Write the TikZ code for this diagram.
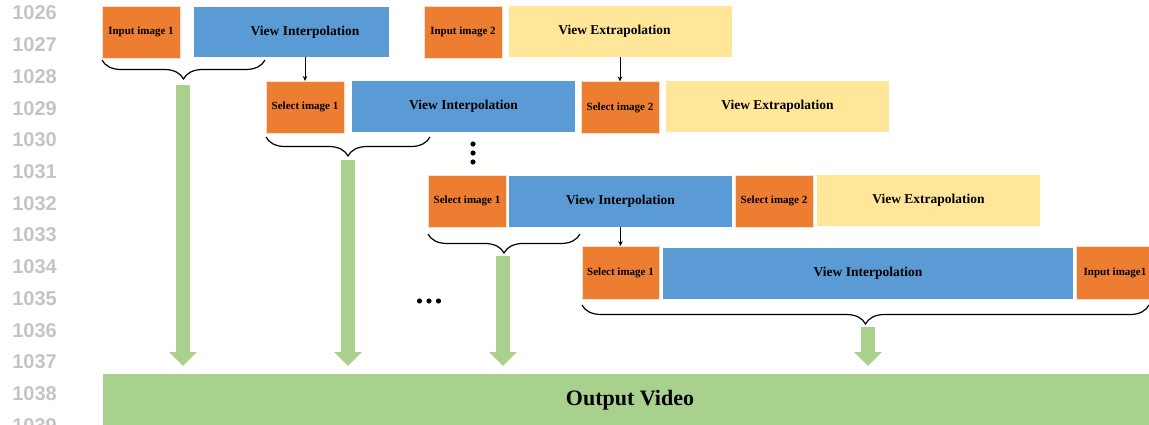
\documentclass[tikz,border=0pt]{standalone}
\usepackage{fontspec}
\setmainfont{Liberation Serif}
\newfontfamily\lnfont{Liberation Sans}
\usetikzlibrary{arrows.meta,decorations.pathreplacing,calc}
\definecolor{cOrange}{HTML}{ED7D31}
\definecolor{cBlue}{HTML}{5B9BD5}
\definecolor{cYellow}{HTML}{FFE699}
\definecolor{cGreen}{HTML}{A9D18E}
\definecolor{cLine}{HTML}{C4C4C4}
\begin{document}
\begin{tikzpicture}[x=1pt,y=-1pt,
  box/.style={inner sep=0pt,outer sep=0pt,text=black,font=\fontsize{13.5}{15}\selectfont\bfseries},
  imgbox/.style={box,fill=cOrange,draw=white!75!cOrange,line width=0.6pt,minimum width=78pt,minimum height=52pt,font=\fontsize{11}{13}\selectfont\bfseries},
  interp/.style={box,fill=cBlue,minimum height=51pt},
  extrap/.style={box,fill=cYellow,minimum height=51pt,minimum width=223pt},
  bracepath/.style={decorate,decoration={brace,mirror,amplitude=19pt},line width=1.2pt,black},
  greenarrow/.style={draw=cGreen,line width=14pt,-{Triangle[width=27pt,length=14pt]},shorten >=8pt},
  blkarrow/.style={draw=black,line width=1pt,-{Stealth[length=5pt,width=4.5pt]}},
  lnum/.style={anchor=east,inner sep=0pt,text=cLine,font=\lnfont\fontsize{20}{22}\selectfont\bfseries}
]
\clip (0,0) rectangle (1149,425);
\useasboundingbox (0,0) rectangle (1149,425);

% line numbers
\foreach \n [count=\i from 0] in {1026,1027,1028,1029,1030,1031,1032,1033,1034,1035,1036,1037,1038,1039}{
  \node[lnum] (ln\n) at (57,{13+31.72*\i}) {\n};
}

% Row 1
\node[imgbox] (in1) at (141,32) {Input image 1};
\node[interp,minimum width=195pt,minimum height=50pt] (vi1) at (291.5,32) {\hspace*{27pt}View Interpolation};
\node[imgbox] (in2) at (463,32) {Input image 2};
\node[extrap] (ve1) at (620.5,31.5) {View Extrapolation\hspace*{12pt}};

% Row 2
\node[imgbox] (s1b) at (305,107) {Select image 1};
\node[interp,minimum width=223pt] (vi2) at (463.5,106.5) {View Interpolation};
\node[imgbox] (s2b) at (620,107.5) {Select image 2};
\node[extrap] (ve2) at (777.5,106.5) {View Extrapolation};

% Row 3
\node[imgbox] (s1c) at (467,201) {Select image 1};
\node[interp,minimum width=223pt] (vi3) at (620.5,201.5) {View Interpolation};
\node[imgbox] (s2c) at (774,201) {Select image 2};
\node[extrap] (ve3) at (928.5,200.5) {View Extrapolation};

% Row 4
\node[imgbox,minimum width=77pt,minimum height=53pt] (s1d) at (620.5,272.5) {Select image 1};
\node[interp,minimum width=410pt] (vi4) at (868,273.5) {View Interpolation};
\node[imgbox,minimum height=53pt] (in1d) at (1115,272.5) {Input image1};

% Output
\node[box,fill=cGreen,minimum width=1054pt,minimum height=52pt,font=\fontsize{22}{24}\selectfont\bfseries] (out) at (630,400) {Output Video};

% black arrows
\draw[blkarrow] (vi1.south -| s1b.north) -- (s1b.north);
\draw[blkarrow] (ve1.south -| s2b.north) -- (s2b.north);
\draw[blkarrow] (vi3.south -| s1d.north) -- (s1d.north);

% braces
\coordinate (b1l) at (102,60);  \coordinate (b1r) at (265,60);
\coordinate (b2l) at (266,137); \coordinate (b2r) at (430,137);
\coordinate (b3l) at (428,234); \coordinate (b3r) at (580,234);
\coordinate (b4l) at (582,305); \coordinate (b4r) at (1149,305);
\draw[bracepath] (b1l) -- (b1r);
\draw[bracepath] (b2l) -- (b2r);
\draw[bracepath] (b3l) -- (b3r);
\draw[bracepath] (b4l) -- (b4r);

% green arrows
\coordinate (g1) at (183,85);
\coordinate (g2) at (348,160);
\coordinate (g3) at (503,256);
\coordinate (g4) at (868,327);
\draw[greenarrow] (g1) -- (g1 |- out.north);
\draw[greenarrow] (g2) -- (g2 |- out.north);
\draw[greenarrow] (g3) -- (g3 |- out.north);
\draw[greenarrow] (g4) -- (g4 |- out.north);

% dots
\foreach \y in {144,153,162} \fill[black] (473,\y) circle (2.6pt);
\foreach \x in {419.5,429,438.5} \fill[black] (\x,301) circle (2.6pt);
\end{tikzpicture}
\end{document}
